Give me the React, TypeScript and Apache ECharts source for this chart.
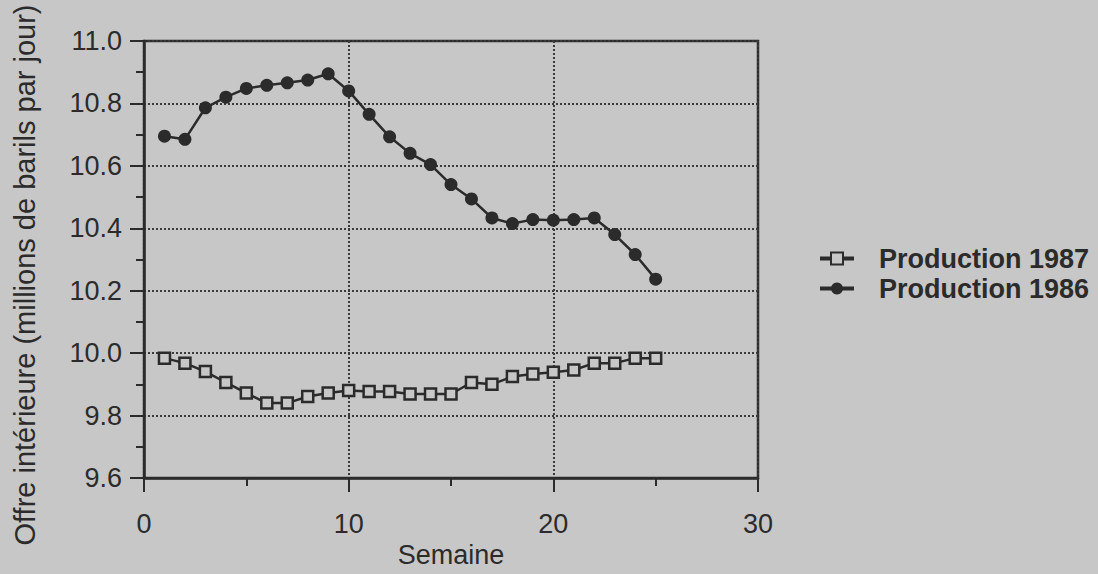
import React, { useEffect, useRef } from "react";
import * as echarts from "echarts";

const weeks = [1, 2, 3, 4, 5, 6, 7, 8, 9, 10, 11, 12, 13, 14, 15, 16, 17, 18, 19, 20, 21, 22, 23, 24, 25];
const prod1987 = [9.984, 9.968, 9.941, 9.906, 9.872, 9.84, 9.84, 9.861, 9.872, 9.88, 9.877, 9.877, 9.869, 9.869, 9.869, 9.906, 9.9, 9.925, 9.933, 9.939, 9.946, 9.968, 9.968, 9.984, 9.984];
const prod1986 = [10.695, 10.685, 10.786, 10.82, 10.848, 10.858, 10.866, 10.875, 10.895, 10.84, 10.765, 10.693, 10.64, 10.604, 10.54, 10.494, 10.433, 10.415, 10.428, 10.426, 10.428, 10.433, 10.38, 10.316, 10.237];
const seriesNames = ["Production 1987", "Production 1986"];
const xAxisTitle = "Semaine";
const yAxisTitle = "Offre intérieure (millions de barils par jour)";

const BG = "#c7c7c7";
const INK = "#2b2b2b";
const FONT = "'Liberation Sans', Arial, Helvetica, sans-serif";

export default function App() {
  const ref = useRef<HTMLDivElement>(null);
  useEffect(() => {
    if (!ref.current) return;
    const chart = echarts.init(ref.current, undefined, { renderer: "svg" });
    const pair = (ys: number[]) => weeks.map((w, i) => [w, ys[i]]);
    chart.setOption({
      animation: false,
      backgroundColor: BG,
      textStyle: { fontFamily: FONT, color: INK },
      grid: {
        left: 144,
        right: 340,
        top: 41,
        bottom: 96,
        show: true,
        borderColor: INK,
        borderWidth: 2.5,
        backgroundColor: "transparent",
      },
      legend: {
        orient: "vertical",
        left: 813,
        top: 240,
        itemWidth: 34,
        itemHeight: 15,
        itemGap: 3,
        data: seriesNames,
        lineStyle: { width: 4 },
        textStyle: {
          fontFamily: FONT,
          fontSize: 27,
          fontWeight: "bold",
          color: INK,
          padding: [0, 0, 0, 20],
        },
      },
      xAxis: {
        type: "value",
        min: 0,
        max: 30,
        interval: 10,
        name: xAxisTitle,
        nameLocation: "middle",
        nameGap: 63,
        nameTextStyle: { fontFamily: FONT, fontSize: 27, color: INK },
        axisLine: { lineStyle: { color: INK, width: 2.5 } },
        axisTick: { length: 14, lineStyle: { color: INK, width: 2 } },
        minorTick: { show: true, splitNumber: 2, length: 8, lineStyle: { color: INK, width: 2 } },
        axisLabel: { fontFamily: FONT, fontSize: 27, color: INK, margin: 32 },
        splitLine: { show: true, lineStyle: { color: "#3a3a3a", width: 2, type: [2, 2] } },
      },
      yAxis: {
        type: "value",
        min: 9.6,
        max: 11.0,
        interval: 0.2,
        axisLine: { show: true, lineStyle: { color: INK, width: 2.5 } },
        axisTick: { show: true, length: 14, lineStyle: { color: INK, width: 2 } },
        minorTick: { show: true, splitNumber: 2, length: 8, lineStyle: { color: INK, width: 2 } },
        axisLabel: {
          fontFamily: FONT,
          fontSize: 27,
          color: INK,
          margin: 22,
          formatter: (v: number) => v.toFixed(1),
        },
        splitLine: { show: true, lineStyle: { color: "#3a3a3a", width: 2, type: [2, 2] } },
      },
      graphic: [
        {
          type: "text",
          x: 25,
          y: 275,
          rotation: Math.PI / 2,
          style: {
            text: yAxisTitle,
            align: "center",
            verticalAlign: "middle",
            font: `29px ${FONT}`,
            fill: INK,
          },
        },
      ],
      series: [
        {
          name: seriesNames[0],
          type: "line",
          data: pair(prod1987),
          symbol: "rect",
          symbolSize: 11,
          showAllSymbol: true,
          lineStyle: { color: INK, width: 2.5 },
          itemStyle: { color: BG, borderColor: INK, borderWidth: 2.5 },
          z: 3,
        },
        {
          name: seriesNames[1],
          type: "line",
          data: pair(prod1986),
          symbol: "circle",
          symbolSize: 13,
          showAllSymbol: true,
          lineStyle: { color: INK, width: 2.5 },
          itemStyle: { color: INK, borderColor: INK, borderWidth: 0 },
          z: 3,
        },
      ],
    });
    return () => chart.dispose();
  }, []);
  return (
    <div
      ref={ref}
      style={{ position: "absolute", left: 0, top: 0, width: 1098, height: 574 }}
    />
  );
}
